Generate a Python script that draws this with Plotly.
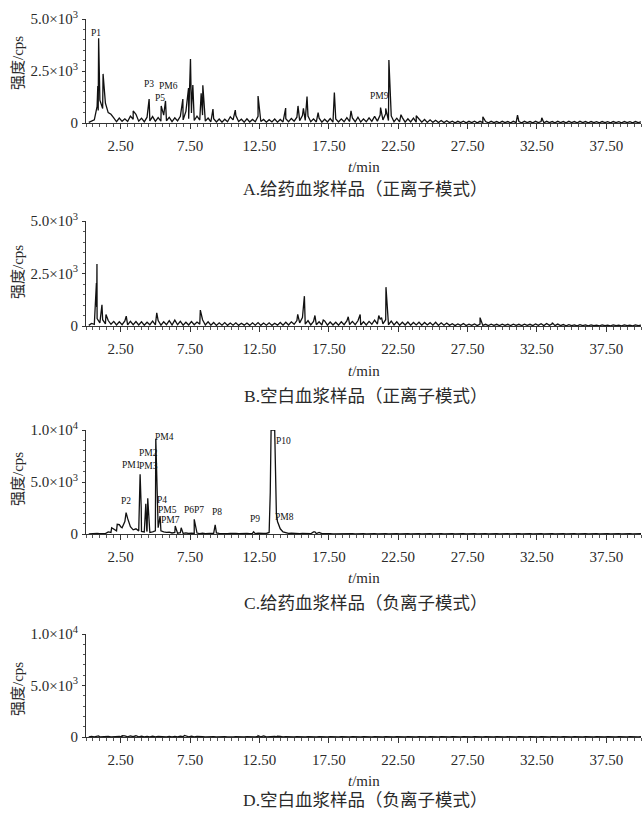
import plotly.graph_objects as go

W, H = 642, 813
STEP = 0.2  # baseline sampling interval (min); baseline values below are read at t = 0.2, 0.4, ... 40.0

# ---------------- Panel A: dosed plasma, positive ion ----------------
base_A = [
    30, 90, 150, 800, 1100, 700, 950, 500, 420, 250,
    60, 240, 80, 200, 70, 330, 180, 420, 90, 230,
    60, 280, 100, 310, 80, 260, 90, 380, 110, 270,
    70, 250, 100, 320, 150, 560, 200, 480, 120, 330,
    140, 380, 90, 240, 60, 210, 50, 190, 40, 180,
    60, 300, 150, 360, 70, 180, 40, 200, 50, 170,
    60, 320, 70, 170, 40, 160, 50, 190, 40, 170,
    50, 210, 60, 220, 90, 280, 110, 360, 120, 330,
    60, 200, 50, 230, 40, 180, 50, 210, 40, 190,
    50, 200, 60, 260, 70, 240, 60, 280, 50, 200,
    60, 250, 80, 320, 90, 380, 150, 450, 120, 340,
    60, 230, 50, 260, 40, 200, 50, 230, 40, 200,
    40, 170, 30, 150, 30, 130, 20, 120, 20, 110,
    20, 90, 10, 80, 20, 90, 10, 80, 20, 90,
    10, 80, 20, 70, 10, 80, 20, 70, 10, 80,
    20, 70, 10, 80, 20, 70, 10, 80, 20, 70,
    10, 80, 20, 70, 10, 80, 20, 70, 10, 80,
    20, 70, 10, 80, 20, 70, 10, 80, 20, 70,
    10, 70, 20, 60, 10, 70, 20, 60, 10, 70,
    20, 60, 10, 70, 20, 60, 10, 70, 20, 60,
]
peak_t_A = [0.85, 0.88, 0.91, 1.23, 3.4, 4.55, 5.42, 5.73, 6.98, 7.39, 7.53, 7.62, 7.7,
            8.3, 8.42, 9.15, 10.76, 12.4, 14.39, 15.28, 15.67, 15.93, 16.73, 17.9,
            19.1, 21.23, 21.6, 21.83, 22.7, 23.8, 28.6, 31.1, 32.85]
peak_i_A = [1780, 600, 4070, 2360, 580, 1150, 820, 1060, 1150, 1680, 3080, 900, 1830,
            1430, 1810, 670, 620, 1300, 720, 820, 700, 1270, 500, 1470,
            580, 740, 700, 3030, 400, 350, 300, 380, 250]

# ---------------- Panel B: blank plasma, positive ion ----------------
base_B = [
    30, 120, 80, 350, 150, 300, 100, 260, 80, 220,
    50, 200, 60, 240, 50, 220, 60, 210, 50, 200,
    40, 180, 60, 230, 50, 260, 40, 200, 60, 250,
    50, 280, 60, 220, 40, 180, 50, 210, 60, 190,
    90, 300, 50, 200, 40, 170, 30, 150, 40, 160,
    30, 140, 40, 150, 30, 130, 40, 140, 30, 150,
    40, 160, 30, 140, 40, 150, 30, 130, 40, 170,
    40, 180, 50, 200, 80, 260, 150, 400, 90, 260,
    50, 220, 60, 200, 50, 240, 40, 190, 50, 180,
    40, 200, 60, 240, 70, 220, 60, 250, 50, 200,
    50, 220, 80, 280, 90, 320, 100, 300, 60, 230,
    50, 200, 40, 180, 50, 190, 40, 170, 50, 180,
    40, 170, 50, 160, 40, 180, 30, 150, 40, 140,
    30, 110, 20, 100, 30, 120, 20, 90, 30, 100,
    20, 90, 30, 80, 20, 90, 30, 80, 20, 90,
    30, 80, 20, 90, 30, 80, 20, 90, 30, 80,
    20, 100, 30, 110, 20, 120, 30, 100, 20, 90,
    20, 70, 10, 60, 20, 50, 10, 60, 20, 50,
    10, 50, 20, 40, 10, 50, 20, 40, 10, 50,
    20, 40, 10, 50, 20, 40, 10, 50, 20, 40,
]
peak_t_B = [0.75, 0.77, 0.79, 1.15, 1.44, 2.9, 5.1, 8.24, 15.26, 15.74, 16.5, 17.1,
            18.9, 19.76, 21.1, 21.3, 21.62, 28.4, 33.6]
peak_i_B = [2050, 900, 2950, 1010, 550, 470, 630, 760, 550, 1420, 500, 280,
            440, 550, 500, 400, 1850, 400, 160]

# ---------------- Panel C: dosed plasma, negative ion ----------------
base_C = [
    10, 40, 20, 50, 30, 60, 40, 200, 150, 500,
    300, 900, 600, 1200, 1500, 700, 400, 500, 300, 250,
    200, 250, 150, 200, 300, 600, 300, 200, 150, 180,
    100, 150, 80, 120, 60, 100, 50, 80, 60, 90,
    40, 80, 30, 60, 40, 70, 100, 60, 40, 50,
    30, 60, 20, 50, 30, 60, 20, 50, 30, 60,
    40, 70, 30, 60, 50, 150, 10000, 10000, 1200, 500,
    200, 120, 60, 80, 40, 60, 30, 50, 40, 60,
    30, 200, 40, 150, 30, 50, 20, 40, 20, 30,
    10, 30, 10, 30, 10, 30, 10, 30, 10, 30,
    10, 30, 10, 30, 10, 30, 10, 30, 10, 30,
    10, 30, 10, 30, 10, 30, 10, 30, 10, 30,
    10, 30, 10, 30, 10, 30, 10, 30, 10, 30,
    10, 30, 10, 30, 10, 30, 10, 30, 10, 30,
    10, 30, 10, 30, 10, 30, 10, 30, 10, 30,
    10, 30, 10, 30, 10, 30, 10, 30, 10, 30,
    10, 30, 10, 30, 10, 30, 10, 30, 10, 30,
    10, 30, 10, 30, 10, 30, 10, 30, 10, 30,
    10, 30, 10, 30, 10, 30, 10, 30, 10, 30,
    10, 30, 10, 30, 10, 30, 10, 30, 10, 30,
]
peak_t_C = [1.85, 2.25, 2.5, 2.89, 3.82, 3.9, 3.98, 4.31, 4.38, 4.45, 5.03, 5.34,
            6.43, 6.86, 7.8, 9.31, 12.08, 13.28, 13.34, 13.66, 13.72, 13.9, 16.5]
peak_i_C = [600, 930, 700, 2050, 2000, 5740, 2500, 2900, 300, 3430, 9170, 1730,
            770, 600, 1410, 870, 220, 4000, 10000, 6000, 2000, 800, 200]

# ---------------- Panel D: blank plasma, negative ion ----------------
base_D = [
    10, 60, 20, 90, 10, 50, 20, 60, 10, 50,
    20, 60, 10, 100, 20, 110, 30, 120, 20, 80,
    10, 60, 20, 70, 10, 60, 20, 50, 10, 60,
    20, 60, 10, 70, 30, 130, 20, 70, 10, 50,
    10, 40, 20, 50, 10, 40, 20, 50, 10, 40,
    10, 50, 20, 40, 10, 50, 20, 40, 10, 50,
    10, 60, 20, 100, 10, 40, 20, 50, 10, 70,
    5, 25, 5, 25, 5, 25, 5, 25, 5, 25,
    5, 25, 5, 25, 5, 25, 5, 25, 5, 25,
    5, 25, 5, 25, 5, 25, 5, 25, 5, 25,
    5, 25, 5, 25, 5, 25, 5, 25, 5, 25,
    5, 25, 5, 25, 5, 25, 5, 25, 5, 25,
    5, 25, 5, 25, 5, 25, 5, 25, 5, 25,
    5, 25, 5, 25, 5, 25, 5, 25, 5, 25,
    5, 25, 5, 25, 5, 25, 5, 25, 5, 25,
    5, 25, 5, 25, 5, 25, 5, 25, 5, 25,
    5, 25, 5, 25, 5, 25, 5, 25, 5, 25,
    5, 25, 5, 25, 5, 25, 5, 25, 5, 25,
    5, 25, 5, 25, 5, 25, 5, 25, 5, 25,
    5, 25, 5, 25, 5, 25, 5, 25, 5, 25,
]
peak_t_D = [0.9, 2.6, 3.2, 7.1, 12.4, 13.8]
peak_i_D = [100, 120, 120, 150, 120, 80]

# ---------------- peak labels ----------------
lab_A = ["P1", "P3", "PM6", "P5", "PM9"]
lab_A_t = [0.72, 4.57, 5.94, 5.34, 21.18]
lab_A_i = [4340, 1880, 1780, 1190, 1300]

lab_C = ["P2", "PM1", "PM2", "PM3", "PM4", "P4", "PM5", "PM7", "P6P7", "P8", "P9", "P10", "PM8"]
lab_C_t = [2.89, 3.28, 4.47, 4.48, 5.65, 5.51, 5.86, 6.12, 7.80, 9.44, 12.20, 14.20, 14.32]
lab_C_i = [3170, 6630, 7820, 6540, 9330, 3300, 2320, 1330, 2310, 2140, 1440, 8940, 1630]

# ---------------- axis ticks / texts ----------------
x_ticks = [2.5, 7.5, 12.5, 17.5, 22.5, 27.5, 32.5, 37.5]
x_ticktext = ["2.50", "7.50", "12.50", "17.50", "22.50", "27.50", "32.50", "37.50"]
y_ticks_pos = [0, 2500, 5000]
y_text_pos = ["0", "2.5×10<sup>3</sup>", "5.0×10<sup>3</sup>"]
y_ticks_neg = [0, 5000, 10000]
y_text_neg = ["0", "5.0×10<sup>3</sup>", "1.0×10<sup>4</sup>"]
captions = ["A.给药血浆样品（正离子模式）", "B.空白血浆样品（正离子模式）",
            "C.给药血浆样品（负离子模式）", "D.空白血浆样品（负离子模式）"]

# ---------------- layout geometry (pixels) ----------------
panels_px = [(19, 123), (221, 326), (430, 534), (634, 737)]  # (top, bottom) of plot areas
ytitle_y = [63, 272, 479, 689]
xtitle_y = [167, 371, 578, 781]
caption_y = [189, 396, 603, 800]
X0, X1 = 86, 641

SERIF = "Liberation Serif, Times New Roman, serif"
CJK = "Liberation Serif, Noto Sans CJK SC, serif"
TXT = "#2a2a2a"


def build(base, pt, pi):
    pts = [(round(STEP * (k + 1), 3), v) for k, v in enumerate(base)] + list(zip(pt, pi))
    pts.sort(key=lambda p: p[0])
    return [p[0] for p in pts], [p[1] for p in pts]


fig = go.Figure()
datasets = [(base_A, peak_t_A, peak_i_A), (base_B, peak_t_B, peak_i_B),
            (base_C, peak_t_C, peak_i_C), (base_D, peak_t_D, peak_i_D)]
for k, (b, pt, pi) in enumerate(datasets):
    xs, ys = build(b, pt, pi)
    sfx = "" if k == 0 else str(k + 1)
    fig.add_trace(go.Scatter(x=xs, y=ys, mode="lines", xaxis="x" + sfx, yaxis="y" + sfx,
                             line=dict(color="#111111", width=1.3), showlegend=False,
                             hoverinfo="skip"))

layout = dict(width=W, height=H, margin=dict(l=0, r=0, t=0, b=0, pad=0, autoexpand=False),
              autosize=False, template="none",
              paper_bgcolor="white", plot_bgcolor="white", showlegend=False)

annotations = []
for k in range(4):
    top, bot = panels_px[k]
    sfx = "" if k == 0 else str(k + 1)
    ymax = 5000 if k < 2 else 10000
    layout["xaxis" + sfx] = dict(
        domain=[X0 / W, X1 / W], range=[0, 40], anchor="y" + sfx, automargin=False,
        showgrid=False, zeroline=False, showline=True, linecolor="#333", linewidth=1,
        tickmode="array", tickvals=x_ticks, ticktext=x_ticktext,
        ticks="outside", ticklen=5, tickwidth=1, tickcolor="#333",
        minor=dict(ticks="outside", ticklen=3, tickcolor="#555", dtick=0.5, tick0=0, showgrid=False),
        tickfont=dict(family=SERIF, size=15, color=TXT), ticklabelstandoff=4,
        fixedrange=True)
    layout["yaxis" + sfx] = dict(
        domain=[1 - bot / H, 1 - top / H], range=[0, ymax], anchor="x" + sfx, automargin=False,
        showgrid=False, zeroline=False, showline=True, linecolor="#333", linewidth=1,
        tickmode="array", tickvals=(y_ticks_pos if k < 2 else y_ticks_neg),
        ticktext=(y_text_pos if k < 2 else y_text_neg),
        ticks="outside", ticklen=3, tickwidth=1, tickcolor="#333",
        minor=dict(ticks="outside", ticklen=2, tickcolor="#555",
                   dtick=(500 if k < 2 else 1000), tick0=0, showgrid=False),
        tickfont=dict(family=SERIF, size=15, color=TXT), ticklabelstandoff=1,
        fixedrange=True)
    annotations.append(dict(text="强度/cps", x=18 / W, y=1 - ytitle_y[k] / H, xref="paper", yref="paper",
                            textangle=-90, showarrow=False, xanchor="center", yanchor="middle",
                            font=dict(family=CJK, size=15, color=TXT)))
    annotations.append(dict(text="<i>t</i>/min", x=364 / W, y=1 - xtitle_y[k] / H, xref="paper", yref="paper",
                            showarrow=False, xanchor="center", yanchor="middle",
                            font=dict(family=SERIF, size=15, color=TXT)))
    annotations.append(dict(text=captions[k], x=366 / W, y=1 - caption_y[k] / H, xref="paper", yref="paper",
                            showarrow=False, xanchor="center", yanchor="middle",
                            font=dict(family=CJK, size=17.5, color=TXT)))

for name, t, i in zip(lab_A, lab_A_t, lab_A_i):
    annotations.append(dict(text=name, x=t, y=i, xref="x", yref="y", showarrow=False,
                            xanchor="center", yanchor="middle",
                            font=dict(family=SERIF, size=9.5, color="#111")))
for name, t, i in zip(lab_C, lab_C_t, lab_C_i):
    annotations.append(dict(text=name, x=t, y=i, xref="x3", yref="y3", showarrow=False,
                            xanchor="center", yanchor="middle",
                            font=dict(family=SERIF, size=9.5, color="#111")))

layout["annotations"] = annotations
fig.update_layout(**layout)
# remove the default 8px page margin so the 642x813 figure fills the window exactly
fig.write_html("out.html", config={"displayModeBar": False, "staticPlot": True},
               post_script="document.body.style.margin='0';"
                           "document.documentElement.style.overflow='hidden';"
                           "document.body.style.overflow='hidden';")
